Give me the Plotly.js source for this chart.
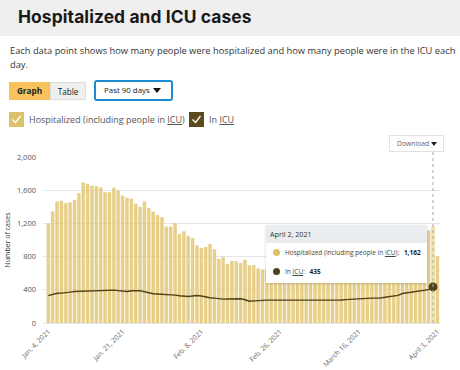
<!DOCTYPE html>
<html>
<head>
<meta charset="utf-8">
<script src="https://cdn.plot.ly/plotly-3.0.1.min.js"></script>
<style>
  html, body { margin:0; padding:0; width:460px; height:370px; overflow:hidden; background:#fff; font-family:"Open Sans", sans-serif; }
  #chart { position:absolute; left:0; top:0; width:460px; height:370px; z-index:0; }
  .abs { position:absolute; z-index:2; }
  #hdr { left:0; top:0; width:460px; height:36px; background:#efefef; }
  #hdr span { position:absolute; left:18px; top:6px; font-family:"Inter", sans-serif; font-weight:700; font-size:17.4px; color:#1a1a1a; white-space:nowrap; letter-spacing:0.1px; }
  #desc { left:10px; top:44px; width:448px; font-size:9.3px; line-height:14px; color:#333; }
  .btn { top:82px; height:18px; font-size:8.2px; line-height:18px; text-align:center; box-sizing:border-box; color:#222; }
  #bGraph { left:9px; width:41px; background:#f8c25c; font-weight:700; }
  #bTable { left:50px; width:36px; background:#efefef; border:1px solid #ddd; }
  #dd { left:94px; top:80px; width:79px; height:21px; box-sizing:border-box; border:2px solid #1d8bd0; border-radius:3px; font-size:7.9px; line-height:17px; padding-left:8px; color:#222; white-space:nowrap; }
  #dd .tri { position:absolute; right:10px; top:6px; width:0; height:0; border-left:4px solid transparent; border-right:4px solid transparent; border-top:5px solid #111; }
  .cb { top:112px; width:15px; height:15px; }
  .cb svg { display:block; }
  .lt { top:113px; font-size:9px; line-height:14px; color:#555; white-space:nowrap; }
  .lt u { text-decoration:underline; }
  #dl { left:389px; top:135px; width:55px; height:17px; box-sizing:border-box; border:1px solid #e2e2e2; font-size:6.8px; line-height:15px; color:#666; padding-left:7px; white-space:nowrap; }
  #dl .tri { position:absolute; right:6px; top:6px; width:0; height:0; border-left:3px solid transparent; border-right:3px solid transparent; border-top:4px solid #222; }
  #tip { left:266px; top:225px; width:161px; height:58px; background:#fff; box-shadow:0 1px 3px rgba(0,0,0,0.18); z-index:3; }
  #tip .th { height:18px; background:#e9edf0; font-size:7.2px; line-height:18px; padding-left:4px; color:#333; }
  #tip .row { position:absolute; left:7px; font-size:6.5px; color:#444; white-space:nowrap; }
  #tip .row i { display:inline-block; width:7px; height:7px; border-radius:50%; margin-right:5px; vertical-align:-1px; }
  #tip .row b { color:#222; margin-left:3px; }
</style>
</head>
<body>
<div id="chart"></div>
<div id="hdr" class="abs"><span>Hospitalized and ICU cases</span></div>
<div id="desc" class="abs">Each data point shows how many people were hospitalized and how many people were in the ICU each day.</div>
<div id="bGraph" class="abs btn">Graph</div>
<div id="bTable" class="abs btn">Table</div>
<div id="dd" class="abs">Past 90 days<div class="tri"></div></div>
<div class="abs cb" style="left:9px;"><svg width="15" height="15"><rect width="15" height="15" fill="#dcc36b"/><path d="M3.5 7.5 L6.5 10.5 L11.5 4" stroke="#fff" stroke-width="1.3" fill="none"/></svg></div>
<div class="abs lt" style="left:29px;">Hospitalized (including people in <u>ICU</u>)</div>
<div class="abs cb" style="left:189px;"><svg width="15" height="15"><rect width="15" height="15" fill="#5a4a1d"/><path d="M3.5 7.5 L6.5 10.5 L11.5 4" stroke="#fff" stroke-width="1.3" fill="none"/></svg></div>
<div class="abs lt" style="left:209px;">In <u>ICU</u></div>
<div id="dl" class="abs">Download<div class="tri"></div></div>
<div id="tip" class="abs">
  <div class="th" id="tipDate"></div>
  <div class="row" style="top:23px;"><i style="background:#dcc36b"></i>Hospitalized (including people in <u>ICU</u>): <b id="tipH"></b></div>
  <div class="row" style="top:42px;"><i style="background:#4f4118"></i>In <u>ICU</u>: <b id="tipI"></b></div>
</div>
<script>
// ---- data ----
var startDate = '2021-01-04';
var hospitalized = [
  1195, 1340, 1460, 1468, 1440, 1450, 1480, 1560, 1690, 1675,
  1650, 1645, 1630, 1572, 1572, 1625, 1592, 1532, 1505, 1495,
  1435, 1395, 1460, 1380, 1340, 1298, 1270, 1160, 1160, 1200,
  1068, 1100, 1045, 1020, 930, 900, 912, 950, 885, 770,
  790, 710, 745, 742, 720, 758, 690, 694, 654, 640,
  650, 660, 645, 630, 625, 640, 655, 640, 625, 615,
  610, 625, 640, 650, 645, 630, 640, 660, 670, 680,
  690, 685, 700, 715, 730, 745, 760, 755, 770, 790,
  810, 830, 850, 870, 890, 910, 940, 1110, 1162, 800
];
var icu = [
  330, 348, 358, 360, 362, 372, 380, 382, 380, 380,
  382, 384, 390, 392, 394, 396, 390, 384, 380, 388,
  392, 390, 376, 362, 352, 350, 348, 346, 344, 336,
  328, 322, 320, 326, 332, 326, 312, 304, 300, 292,
  288, 290, 292, 292, 292, 280, 262, 266, 272, 276,
  276, 276, 276, 276, 275, 274, 272, 272, 272, 272,
  276, 280, 280, 278, 276, 276, 276, 278, 282, 286,
  292, 296, 298, 300, 300, 300, 300, 310, 320, 326,
  332, 355, 362, 368, 378, 386, 392, 402, 435, null
];
var tickDates = ['2021-01-04','2021-01-21','2021-02-08','2021-02-26','2021-03-16','2021-04-03'];
var tickLabels = ['Jan. 4, 2021','Jan. 21, 2021','Feb. 8, 2021','Feb. 26, 2021','March 16, 2021','April 3, 2021'];
var yTicks = [0, 400, 800, 1200, 1600, 2000];
var yTickLabels = ['0','400','800','1,200','1,600','2,000'];
var hoverIndex = 88;
var monthNames = ['January','February','March','April','May','June','July','August','September','October','November','December'];

// consecutive daily dates
var dates = [];
var d0 = new Date(startDate + 'T00:00:00Z');
for (var i = 0; i < hospitalized.length; i++) {
  var d = new Date(d0.getTime() + i * 86400000);
  dates.push(d.toISOString().slice(0, 10));
}

var barColors = hospitalized.map(function(v, i){ return i === hoverIndex ? '#f4e6b0' : '#e9d088'; });

var traces = [
  { type:'bar', x:dates, y:hospitalized, marker:{ color:barColors, line:{ color:'#dcc06a', width:0.4 } }, hoverinfo:'skip' },
  { type:'scatter', mode:'lines', x:dates, y:icu, line:{ color:'#4f4118', width:1.4 }, hoverinfo:'skip', connectgaps:false },
  { type:'scatter', mode:'markers', x:[dates[hoverIndex]], y:[icu[hoverIndex]], marker:{ color:'#4f4118', size:9 }, hoverinfo:'skip' }
];

var layout = {
  width:460, height:370,
  margin:{ l:43, r:19, t:157, b:47, pad:0 },
  paper_bgcolor:'rgba(0,0,0,0)', plot_bgcolor:'rgba(0,0,0,0)',
  showlegend:false, bargap:0.35,
  font:{ family:'"Open Sans", sans-serif', color:'#555' },
  xaxis:{
    type:'date', range:['2021-01-02 19:00','2021-04-03 20:00'],
    tickvals:tickDates, ticktext:tickLabels, tickangle:-45,
    tickfont:{ size:6.9, color:'#666' }, showgrid:false, zeroline:false,
    showline:true, linecolor:'#e8e8e8', linewidth:1, ticks:'outside', ticklen:1, tickcolor:'rgba(0,0,0,0)'
  },
  yaxis:{
    range:[0, 2000], tickvals:yTicks, ticktext:yTickLabels,
    tickfont:{ size:7.5, color:'#555' }, gridcolor:'#e6e6e6', gridwidth:1,
    zeroline:false, showline:false, ticks:'', ticklabelstandoff:6,
    title:{ text:'Number of cases', font:{ size:7, color:'#333' }, standoff:5 }
  },
  shapes:[
    { type:'line', xref:'x', yref:'paper', x0:dates[hoverIndex], x1:dates[hoverIndex], y0:0, y1:1.04,
      line:{ color:'#aaa', width:1, dash:'dot' } }
  ]
};

Plotly.newPlot('chart', traces, layout, { staticPlot:true, displayModeBar:false });

// tooltip text from data
var hd = new Date(dates[hoverIndex] + 'T00:00:00Z');
document.getElementById('tipDate').textContent = monthNames[hd.getUTCMonth()] + ' ' + hd.getUTCDate() + ', ' + hd.getUTCFullYear();
document.getElementById('tipH').textContent = hospitalized[hoverIndex].toLocaleString('en-US');
document.getElementById('tipI').textContent = icu[hoverIndex].toLocaleString('en-US');
</script>
</body>
</html>
